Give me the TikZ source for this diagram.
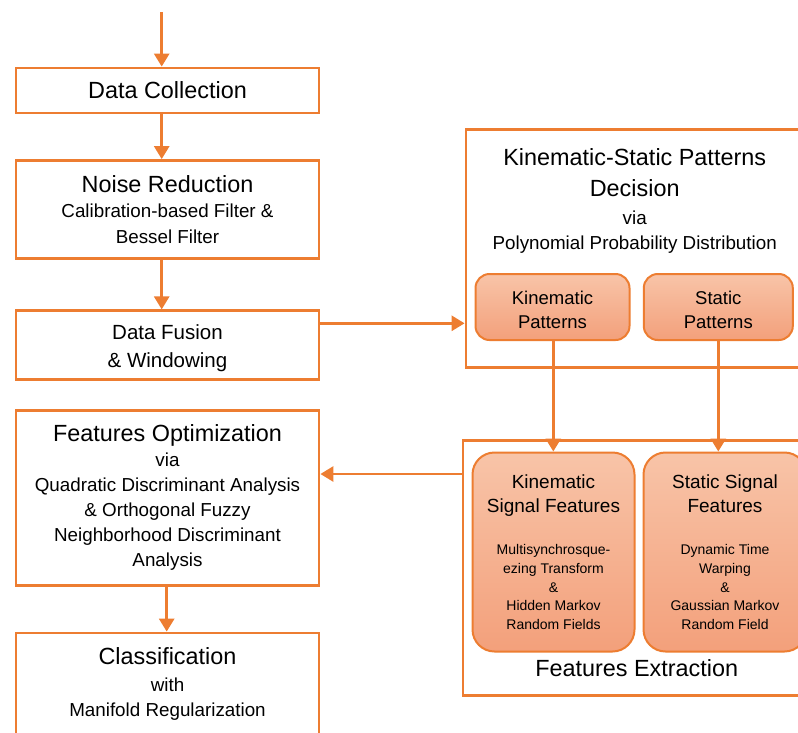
\documentclass[tikz,border=0pt]{standalone}
\usepackage{fontspec}
\setmainfont{Liberation Sans}
\usetikzlibrary{arrows.meta}

\definecolor{flow}{HTML}{ED7D31}
\definecolor{padtop}{HTML}{F8C4A8}
\definecolor{padbot}{HTML}{F3A07B}

\newcommand{\headfont}{\fontsize{23.4}{28}\selectfont}
\newcommand{\padfont}{\fontsize{19}{24}\selectfont}

\tikzset{
  box/.style={draw=flow, line width=2.8pt, fill=white, align=center, inner sep=0pt},
  pad/.style={draw=flow, line width=2pt, align=center, inner sep=0pt,
    top color=padtop, bottom color=padbot},
  flowarrow/.style={draw=flow, line width=2.8pt, -{Triangle[length=13pt,width=15pt]}},
}

\begin{document}
\begin{tikzpicture}[x=1pt, y=-1pt]
\clip (0,0) rectangle (798,732);

% main column
\node[box, minimum width=303pt, minimum height=45pt, font=\headfont] (collection) at (167.5,90.5) {Data Collection};
\node[box, minimum width=303pt, minimum height=98pt, font=\fontsize{18.8}{26}\selectfont] (noise) at (167.5,209.5)
  {{\headfont Noise Reduction}\\[-1pt] Calibration-based Filter \&\\ Bessel Filter};
\node[box, minimum width=303pt, minimum height=69pt, font=\fontsize{20.5}{28}\selectfont] (fusion) at (167.5,345.3)
  {\rule{0pt}{21pt}Data Fusion\\ \& Windowing};
\node[box, minimum width=303pt, minimum height=175pt, font=\fontsize{18.8}{25}\selectfont] (optim) at (167.5,497.7)
  {{\headfont Features Optimization}\\ via\\ Quadratic Discriminant Analysis\\ \& Orthogonal Fuzzy\\ Neighborhood Discriminant\\ Analysis};
\node[box, minimum width=303pt, minimum height=102pt, font=\fontsize{18.8}{25}\selectfont] (class) at (167.5,684)
  {{\headfont Classification}\\[1.7pt] with\\ Manifold Regularization};

% pattern decision
\node[box, minimum width=337pt, minimum height=238pt] (decision) at (634.5,248.3) {};
\node[align=center, inner sep=0pt, font=\fontsize{18.8}{25.3}\selectfont] (decisiontitle) at (634.7,201)
  {{\headfont Kinematic-Static Patterns}\\[5.7pt] {\headfont Decision}\\[2.7pt] via\\ Polynomial Probability Distribution};
\node[pad, rounded corners=14pt, minimum width=154pt, minimum height=66pt, font=\fontsize{18.5}{24.3}\selectfont] (kinpat) at (552.5,307)
  {\rule{0pt}{18.5pt}Kinematic\\ Patterns};
\node[pad, rounded corners=14pt, minimum width=149pt, minimum height=66pt, font=\fontsize{18.5}{24.3}\selectfont] (statpat) at (718.3,307)
  {\rule{0pt}{18.5pt}Static\\ Patterns};

% feature extraction
\node[box, minimum width=346pt, minimum height=255pt] (extract) at (636,567.7) {};
\node[inner sep=0pt, font=\headfont] (extractlabel) at (636.7,668.3) {Features Extraction};
\node[pad, rounded corners=22pt, minimum width=162pt, minimum height=199pt, font=\fontsize{14}{18.6}\selectfont] (kinsig) at (553.5,552)
  {{\padfont Kinematic}\\[5.7pt] {\padfont Signal Features}\\[23.7pt] Multisynchrosque-\\ ezing Transform\\ \&\\ Hidden Markov\\ Random Fields};
\node[pad, rounded corners=22pt, minimum width=163pt, minimum height=199pt, font=\fontsize{14}{18.6}\selectfont] (statsig) at (725,552)
  {{\padfont Static Signal}\\[5.7pt] {\padfont Features}\\[23.7pt] Dynamic Time\\ Warping\\ \&\\ Gaussian Markov\\ Random Field};

% connectors
\coordinate (start) at (161.7,12);
\draw[flowarrow] (start) -- (start |- collection.north);
\draw[flowarrow] (start |- collection.south) -- (start |- noise.north);
\draw[flowarrow] (start |- noise.south) -- (start |- fusion.north);
\coordinate (fusionout) at ([yshift=22pt]fusion.east);
\draw[flowarrow] (fusionout) -- (fusionout -| decision.west);
\draw[flowarrow] ([xshift=0.8pt]kinpat.south) -- ([xshift=0.8pt]kinpat.south |- kinsig.north);
\draw[flowarrow] (statpat.south) -- (statpat.south |- statsig.north);
\coordinate (extractout) at ([yshift=93.7pt]extract.west);
\draw[flowarrow] (extractout) -- (extractout -| optim.east);
\draw[flowarrow] ([xshift=-0.8pt]optim.south) -- ([xshift=-0.8pt]class.north);

\end{tikzpicture}
\end{document}
